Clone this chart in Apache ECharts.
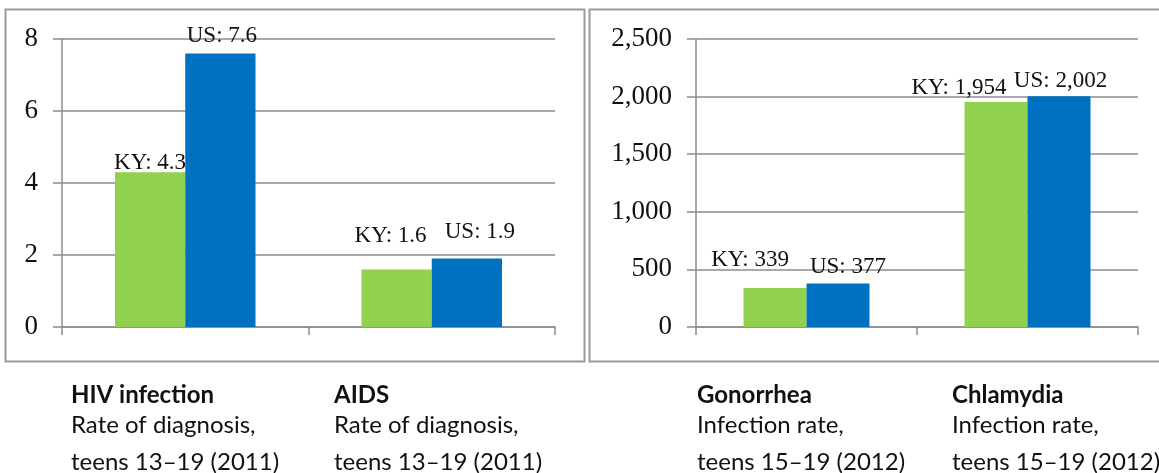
<!DOCTYPE html>
<html>
<head>
<meta charset="utf-8">
<script src="https://cdn.jsdelivr.net/npm/echarts@6/dist/echarts.min.js"></script>
<style>
html,body{margin:0;padding:0;background:#fff;}
#chart{width:1159px;height:473px;}
</style>
</head>
<body>
<div id="chart"></div>
<script>
// ---- data ----
var leftCategories = ['HIV infection', 'AIDS'];
var rightCategories = ['Gonorrhea', 'Chlamydia'];
var leftKY = [4.3, 1.6];
var leftUS = [7.6, 1.9];
var rightKY = [339, 1954];
var rightUS = [377, 2002];
var seriesNames = ['KY', 'US'];
var leftSubtitles = [['Rate of diagnosis,', 'teens 13\u201319 (2011)'], ['Rate of diagnosis,', 'teens 13\u201319 (2011)']];
var rightSubtitles = [['Infection rate,', 'teens 15\u201319 (2012)'], ['Infection rate,', 'teens 15\u201319 (2012)']];
var leftTicks = [0, 2, 4, 6, 8];
var rightTicks = [0, 500, 1000, 1500, 2000, 2500];

// ---- styling / layout ----
var GREEN = '#92D050', BLUE = '#0070C0', GRID = '#8c8c8c', BORDER = '#9a9a9a';
var SERIF = '"Liberation Serif", "DejaVu Serif", serif';
var SANS = 'Lato, "Open Sans", sans-serif';
// label offsets (manual placement in original)
var offKYl = [[0, 2], [-6, -22]];
var offUSl = [[1.5, -6], [13, -15.6]];
var offKYr = [[-25, -16.5], [-37, -2.4]];
var offUSr = [[10, -5.6], [1.5, -4.4]];

function fmt(v) { return v.toLocaleString('en-US'); }

function makeData(vals, offs) {
  return vals.map(function (v, i) {
    return { value: v, label: { offset: offs[i] } };
  });
}

function barSeries(name, vals, offs, color, idx) {
  return {
    name: name, type: 'bar', xAxisIndex: idx, yAxisIndex: idx,
    barWidth: '28.5%', barGap: '0%',
    itemStyle: { color: color },
    data: makeData(vals, offs),
    label: {
      show: true, position: 'top', distance: 0,
      fontFamily: SERIF, fontSize: 23, color: '#111',
      formatter: function (p) { return name + ': ' + fmt(p.value); }
    }
  };
}

function yAxis(ticks, idx) {
  return {
    type: 'value', gridIndex: idx, min: ticks[0], max: ticks[ticks.length - 1],
    interval: ticks[1] - ticks[0],
    axisLine: { show: true, lineStyle: { color: GRID, width: 1.5 } },
    axisTick: { show: true, length: 9, lineStyle: { color: GRID, width: 1.5 } },
    splitLine: { show: true, lineStyle: { color: GRID, width: 1.5 } },
    axisLabel: { fontFamily: SERIF, fontSize: 27, color: '#111', margin: 24,
      formatter: function (v) { return fmt(v); } }
  };
}

function xAxis(cats, idx) {
  return {
    type: 'category', gridIndex: idx, data: cats,
    axisLine: { show: true, lineStyle: { color: GRID, width: 1.5 } },
    axisTick: { show: true, length: 8, inside: false, lineStyle: { color: GRID, width: 1.5 } },
    axisLabel: { show: false }
  };
}

var textItems = [];
function addLabels(cats, subs, xs) {
  cats.forEach(function (c, i) {
    textItems.push({ type: 'text', left: xs[i], top: 383,
      style: { text: c, font: 'bold 24px ' + SANS, fill: '#111' } });
    textItems.push({ type: 'text', left: xs[i], top: 413,
      style: { text: subs[i][0], font: '24px ' + SANS, fill: '#111' } });
    textItems.push({ type: 'text', left: xs[i], top: 450,
      style: { text: subs[i][1], font: '24px ' + SANS, fill: '#111' } });
  });
}
addLabels(leftCategories, leftSubtitles, [71, 334]);
addLabels(rightCategories, rightSubtitles, [697, 952]);

var chart = echarts.init(document.getElementById('chart'), null, { renderer: 'canvas' });
chart.setOption({
  animation: false,
  backgroundColor: '#fff',
  grid: [
    { left: 62, top: 39, width: 493, height: 288 },
    { left: 696, top: 39, width: 442, height: 288 }
  ],
  xAxis: [xAxis(leftCategories, 0), xAxis(rightCategories, 1)],
  yAxis: [yAxis(leftTicks, 0), yAxis(rightTicks, 1)],
  series: [
    barSeries(seriesNames[0], leftKY, offKYl, GREEN, 0),
    barSeries(seriesNames[1], leftUS, offUSl, BLUE, 0),
    barSeries(seriesNames[0], rightKY, offKYr, GREEN, 1),
    barSeries(seriesNames[1], rightUS, offUSr, BLUE, 1)
  ],
  graphic: [
    { type: 'rect', shape: { x: 5.5, y: 9.5, width: 579, height: 352 }, z: -1,
      style: { fill: 'none', stroke: BORDER, lineWidth: 2 } },
    { type: 'rect', shape: { x: 589.5, y: 9.5, width: 620, height: 352 }, z: -1,
      style: { fill: 'none', stroke: BORDER, lineWidth: 2 } }
  ].concat(textItems)
});
</script>
</body>
</html>
